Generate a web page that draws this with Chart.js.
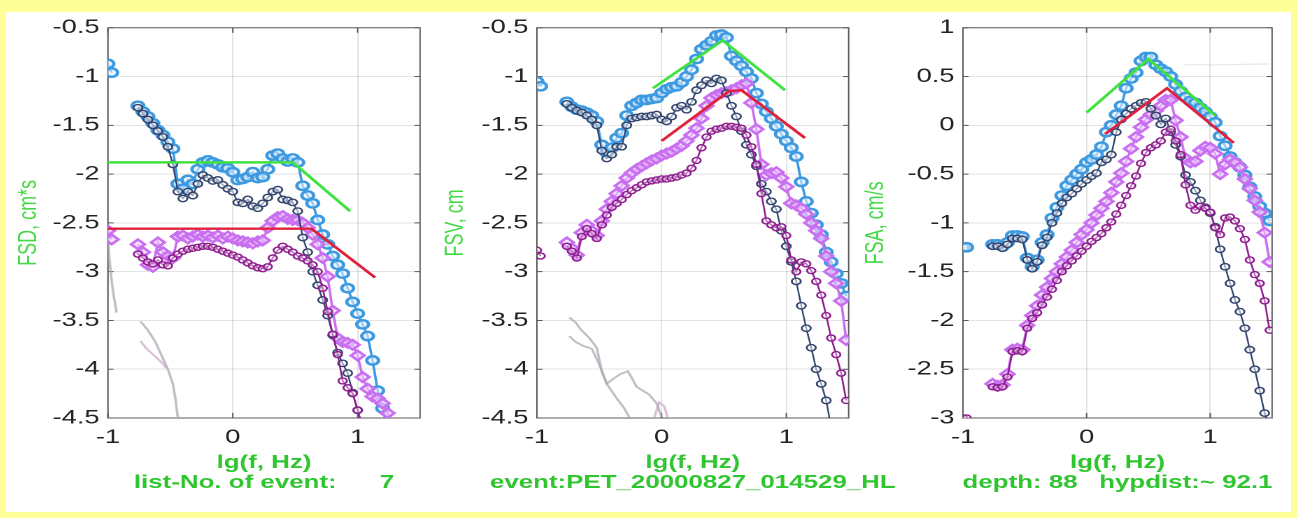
<!DOCTYPE html>
<html>
<head>
<meta charset="utf-8">
<script src="https://cdn.jsdelivr.net/npm/chart.js@4.4.1/dist/chart.umd.min.js"></script>
<style>
  html, body { margin: 0; padding: 0; background: #ffff99; }
  body { width: 1297px; height: 518px; position: relative; overflow: hidden; }
  #sheet { position: absolute; left: 6px; top: 12px; width: 1285px; height: 500px; background: #fff; }
  canvas.panel { position: absolute; top: 12px; }
</style>
</head>
<body>
<div id="sheet"></div>
<canvas id="fsd" class="panel" width="303" height="498"></canvas>
<canvas id="fsv" class="panel" width="341" height="498"></canvas>
<canvas id="fsa" class="panel" width="303" height="498"></canvas>
<script>
// lg(f) grid shared by all spectra; -0.87 is the hole between the first two samples and the rest
const lgF = [
  -1.00, -0.97, -0.87,
  -0.76, -0.72, -0.68, -0.64, -0.60, -0.56, -0.52, -0.48, -0.44, -0.40,
  -0.36, -0.32, -0.28, -0.24, -0.20, -0.16, -0.12, -0.08, -0.04, 0.00,
  0.04, 0.08, 0.12, 0.16, 0.20, 0.24, 0.28, 0.32, 0.36, 0.40,
  0.44, 0.48, 0.52, 0.56, 0.60, 0.64, 0.68, 0.72, 0.76, 0.80,
  0.84, 0.88, 0.92, 0.96, 1.00, 1.04, 1.08, 1.12, 1.16, 1.20,
  1.24, 1.28, 1.32, 1.36, 1.40, 1.44, 1.48
];

const xTicks = [-1, 0, 1];
const fsdTicks = [-4.5, -4, -3.5, -3, -2.5, -2, -1.5, -1, -0.5];
const fsvTicks = [-4.5, -4, -3.5, -3, -2.5, -2, -1.5, -1, -0.5];
const fsaTicks = [-3, -2.5, -2, -1.5, -1, -0.5, 0, 0.5, 1];

const xTitle = 'lg(f, Hz)';
const fsdNote = 'list-No. of event:      7';
const fsvNote = 'event:PET_20000827_014529_HL';
const fsaNote = 'depth: 88   hypdist:~ 92.1';

// displacement spectra
const fsdBlue = [
  -0.87, -0.96, null,
  -1.30, -1.36, -1.41, -1.48, -1.55, -1.60, -1.67, -1.74, -2.10, -2.15,
  -2.06, -2.10, -1.95, -1.88, -1.86, -1.88, -1.90, -1.93, -1.94, -1.98,
  -2.06, -2.05, -2.03, -1.98, -2.04, -2.03, -1.95, -1.81, -1.79, -1.84,
  -1.87, -1.84, -1.88, -2.12, -2.22, -2.30, -2.47, -2.62, -2.72, -2.84,
  -2.93, -3.02, -3.17, -3.31, -3.43, -3.54, -3.66, -3.91, -4.22, -4.40,
  -4.60, null, null, null, null, null, null
];
const fsdNavy = [
  null, null, null,
  -1.32, -1.38, -1.44, -1.50, -1.56, -1.62, -1.72, -1.90, -2.18, -2.25,
  -2.18, -2.22, -2.10, -2.01, -2.04, -2.07, -2.06, -2.11, -2.15, -2.18,
  -2.29, -2.30, -2.26, -2.33, -2.35, -2.30, -2.24, -2.18, -2.16, -2.26,
  -2.27, -2.29, -2.38, -2.65, -2.80, -3.00, -3.14, -3.29, -3.45, -3.65,
  -3.83, -3.94, -4.04, -4.24, -4.42, -4.60, null, null, null, null,
  null, null, null, null, null, null, null
];
const fsdViolet = [
  -2.58, -2.67, null,
  -2.72, -2.80, -2.93, -2.95, -2.70, -2.80, -2.84, -2.86, -2.64, -2.63,
  -2.66, -2.64, -2.62, -2.64, -2.63, -2.65, -2.63, -2.66, -2.64, -2.66,
  -2.68, -2.69, -2.70, -2.71, -2.69, -2.68, -2.55, -2.48, -2.44, -2.43,
  -2.46, -2.47, -2.47, -2.50, -2.55, -2.62, -2.72, -2.86, -3.05, -3.40,
  -3.68, -3.72, -3.73, -3.75, -3.86, -4.08, -4.20, -4.28, -4.30, -4.35,
  -4.45, -4.60, null, null, null, null, null
];
const fsdPurple = [
  null, null, null,
  -2.82, -2.86, -2.90, -2.92, -2.88, -2.93, -2.94, -2.86, -2.82, -2.79,
  -2.77, -2.76, -2.75, -2.74, -2.74, -2.75, -2.77, -2.79, -2.81, -2.83,
  -2.85, -2.88, -2.91, -2.94, -2.96, -2.97, -2.95, -2.86, -2.78, -2.74,
  -2.77, -2.80, -2.84, -2.86, -2.89, -2.93, -3.00, -3.17, -3.41, -3.64,
  -3.85, -4.12, -4.19, -4.25, -4.42, -4.60, null, null, null, null,
  null, null, null, null, null, null, null
];

// velocity spectra
const fsvBlue = [
  -1.05, -1.10, null,
  -1.26, -1.31, -1.34, -1.35, -1.37, -1.40, -1.46, -1.70, -1.78, -1.73,
  -1.63, -1.58, -1.40, -1.30, -1.27, -1.24, -1.24, -1.23, -1.22, -1.17,
  -1.13, -1.11, -1.10, -1.06, -1.00, -0.93, -0.82, -0.72, -0.68, -0.64,
  -0.58, -0.57, -0.60, -0.79, -0.84, -0.89, -0.95, -1.02, -1.17, -1.28,
  -1.36, -1.43, -1.51, -1.59, -1.66, -1.73, -1.82, -2.08, -2.28, -2.40,
  -2.52, -2.62, -2.80, -2.90, -3.02, -3.12, -3.25
];
const fsvNavy = [
  null, null, null,
  -1.28, -1.32, -1.35, -1.37, -1.40, -1.44, -1.50, -1.76, -1.84, -1.80,
  -1.72, -1.72, -1.50, -1.43, -1.42, -1.41, -1.41, -1.40, -1.39, -1.44,
  -1.46, -1.41, -1.32, -1.30, -1.34, -1.26, -1.14, -1.09, -1.04, -1.07,
  -1.02, -1.04, -1.17, -1.30, -1.41, -1.56, -1.70, -1.80, -1.92, -2.10,
  -2.18, -2.28, -2.36, -2.58, -2.74, -2.90, -3.10, -3.35, -3.58, -3.78,
  -4.00, -4.15, -4.32, -4.60, null, null, null
];
const fsvViolet = [
  null, null, null,
  -2.70, -2.76, -2.83, -2.60, -2.52, -2.58, -2.63, -2.48, -2.36, -2.28,
  -2.20, -2.12, -2.04, -1.99, -1.95, -1.92, -1.89, -1.86, -1.84, -1.81,
  -1.79, -1.77, -1.74, -1.71, -1.66, -1.60, -1.53, -1.43, -1.30, -1.22,
  -1.19, -1.17, -1.16, -1.14, -1.12, -1.09, -1.07, -1.27, -1.54, -1.90,
  -2.01, -1.99, -1.98, -2.04, -2.13, -2.30, -2.32, -2.35, -2.41, -2.50,
  -2.58, -2.66, -2.84, -3.00, -3.12, -3.30, -3.70
];
const fsvPurple = [
  -2.78, -2.84, null,
  -2.74, -2.79, -2.86, -2.64, -2.56, -2.61, -2.66, -2.52, -2.42, -2.34,
  -2.30, -2.26, -2.21, -2.17, -2.14, -2.11, -2.08, -2.07, -2.06, -2.05,
  -2.05, -2.04, -2.03, -2.01, -1.99, -1.94, -1.86, -1.73, -1.62, -1.56,
  -1.54, -1.53, -1.51, -1.51, -1.52, -1.53, -1.60, -1.72, -1.90, -2.20,
  -2.48, -2.52, -2.55, -2.54, -2.63, -2.88, -3.00, -2.90, -2.92, -2.99,
  -3.10, -3.24, -3.45, -3.68, -3.85, -4.04, -4.32
];

// acceleration spectra
const fsaBlue = [
  -1.25, -1.25, null,
  -1.22, -1.22, -1.24, -1.20, -1.13, -1.13, -1.14, -1.36, -1.45, -1.38,
  -1.20, -1.12, -0.95, -0.84, -0.72, -0.62, -0.56, -0.50, -0.45, -0.38,
  -0.35, -0.30, -0.22, -0.07, 0.00, 0.11, 0.20, 0.38, 0.48, 0.54,
  0.66, 0.70, 0.70, 0.62, 0.58, 0.55, 0.50, 0.42, 0.35, 0.29,
  0.25, 0.23, 0.18, 0.14, 0.09, 0.03, -0.11, -0.21, -0.32, -0.38,
  -0.43, -0.51, -0.63, -0.73, -0.83, -0.90, -0.98
];
const fsaNavy = [
  null, null, null,
  -1.24, -1.24, -1.26, -1.22, -1.16, -1.16, -1.17, -1.38, -1.47, -1.40,
  -1.23, -1.15, -1.00, -0.90, -0.80, -0.74, -0.70, -0.65, -0.60, -0.56,
  -0.52, -0.49, -0.38, -0.35, -0.30, -0.07, 0.06, 0.12, 0.17, 0.20,
  0.23, 0.24, 0.17, 0.10, 0.01, 0.07, -0.07, -0.20, -0.32, -0.51,
  -0.58, -0.67, -0.77, -0.84, -0.90, -1.04, -1.27, -1.45, -1.62, -1.79,
  -1.91, -2.08, -2.30, -2.50, -2.72, -2.95, -3.10
];
const fsaViolet = [
  null, null, null,
  -2.65, -2.67, -2.66, -2.55, -2.30, -2.29, -2.30, -2.05, -1.95, -1.85,
  -1.74, -1.66, -1.57, -1.50, -1.42, -1.35, -1.28, -1.20, -1.12, -1.07,
  -1.00, -0.92, -0.85, -0.78, -0.69, -0.58, -0.49, -0.37, -0.24, -0.12,
  -0.02, 0.06, 0.11, 0.15, 0.20, 0.26, 0.26, 0.05, -0.12, -0.34,
  -0.38, -0.37, -0.26, -0.22, -0.23, -0.29, -0.50, -0.40, -0.35, -0.38,
  -0.43, -0.55, -0.65, -0.77, -0.89, -1.10, -1.40
];
const fsaPurple = [
  -3.00, -3.00, null,
  -2.68, -2.69, -2.68, -2.58, -2.32, -2.31, -2.32, -2.08, -1.98, -1.92,
  -1.84, -1.76, -1.68, -1.59, -1.50, -1.44, -1.39, -1.34, -1.29, -1.24,
  -1.19, -1.15, -1.11, -1.05, -0.99, -0.91, -0.82, -0.72, -0.62, -0.52,
  -0.39, -0.28, -0.23, -0.20, -0.16, -0.07, -0.04, -0.16, -0.30, -0.61,
  -0.82, -0.87, -0.83, -0.85, -0.89, -1.05, -1.12, -0.95, -0.94, -0.98,
  -1.06, -1.17, -1.38, -1.53, -1.62, -1.80, -2.10
];

// source-model fits (corner lines)
const fsdGreenX = [-1.0, 0.48, 0.94];
const fsdGreenY = [-1.88, -1.88, -2.38];
const fsdRedX = [-1.0, 0.63, 1.14];
const fsdRedY = [-2.56, -2.56, -3.06];
const fsvGreenX = [-0.07, 0.49, 0.99];
const fsvGreenY = [-1.12, -0.63, -1.14];
const fsvRedX = [0.0, 0.54, 0.64, 1.15];
const fsvRedY = [-1.66, -1.15, -1.14, -1.63];
const fsaGreenX = [0.0, 0.50, 1.04];
const fsaGreenY = [0.13, 0.68, 0.10];
const fsaRedX = [0.15, 0.65, 1.19];
const fsaRedY = [-0.09, 0.38, -0.18];

// faint noise traces
const fsdEdgeX = [-1.0, -0.99, -0.97, -0.95, -0.93];
const fsdEdgeY = [-2.62, -2.85, -3.10, -3.28, -3.42];
const fsdNoiseX = [-0.74, -0.68, -0.62, -0.57, -0.52, -0.48, -0.46, -0.44];
const fsdNoiseY = [-3.51, -3.60, -3.72, -3.86, -4.00, -4.15, -4.30, -4.50];
const fsdNoise2X = [-0.74, -0.69, -0.63, -0.57, -0.53];
const fsdNoise2Y = [-3.71, -3.79, -3.86, -3.93, -3.99];
const fsvNoiseX = [-0.74, -0.69, -0.65, -0.58, -0.52, -0.48, -0.44, -0.39, -0.33, -0.27, -0.20, -0.15, -0.10, -0.04, 0.00];
const fsvNoiseY = [-3.47, -3.52, -3.59, -3.68, -3.78, -4.02, -4.15, -4.10, -4.05, -4.02, -4.18, -4.22, -4.26, -4.35, -4.49];
const fsvNoise2X = [-0.74, -0.69, -0.63, -0.56, -0.50, -0.44, -0.37, -0.30, -0.26];
const fsvNoise2Y = [-3.66, -3.72, -3.76, -3.79, -3.95, -4.15, -4.28, -4.40, -4.49];
const fsvNoise3X = [-0.06, -0.02, 0.02, 0.05];
const fsvNoise3Y = [-4.50, -4.34, -4.38, -4.50];
const fsaNoiseX = [0.79, 1.10, 1.48];
const fsaNoiseY = [0.62, 0.62, 0.63];

const FONT = '"Liberation Sans", Arial, sans-serif';
const STRETCH = 1.4;      // panels are drawn narrow and widened by CSS
const CANVAS_H = 498;
const CANVAS_TOP = 12;
const PLOT_TOP = 22;
const PLOT_BOTTOM = 418;
const TITLE_SIZE = 18.5;
const gridColor = 'rgba(0, 0, 0, 0.11)';
const labelGreen = '#2fc52f';

const styles = {
  blue: { color: '#3d9ae0', fill: 'rgba(230, 242, 255, 0.6)', shape: 'circle', r: 4.2, pw: 2.4, lw: 1.8 },
  navy: { color: '#33456e', fill: 'rgba(255, 255, 255, 0.5)', shape: 'circle', r: 3.2, pw: 1.4, lw: 1.2 },
  violet: { color: '#c96ff0', fill: 'rgba(240, 215, 255, 0.6)', shape: 'rectRot', r: 4.8, pw: 2.3, lw: 1.8 },
  purple: { color: '#8f1d8f', fill: 'rgba(255, 255, 255, 0.4)', shape: 'circle', r: 3.0, pw: 1.4, lw: 1.3 }
};

const toPoints = (xs, ys) => xs.map((x, i) => ({ x, y: ys[i] }));

function spectrum(values, key) {
  const s = styles[key];
  return {
    data: toPoints(lgF, values),
    borderColor: s.color,
    borderWidth: s.lw,
    pointStyle: s.shape,
    pointRadius: s.r,
    pointBorderWidth: s.pw,
    pointBorderColor: s.color,
    pointBackgroundColor: s.fill,
    spanGaps: false
  };
}

function plainLine(xs, ys, color, width) {
  return {
    data: toPoints(xs, ys),
    borderColor: color,
    borderWidth: width,
    pointRadius: 0
  };
}

// box round the plot with inward tick marks
const framePlugin = {
  id: 'frame',
  beforeDatasetsDraw(chart) {
    const { ctx, chartArea: a, scales } = chart;
    ctx.save();
    ctx.strokeStyle = '#5a5a5a';
    ctx.lineWidth = 1;
    ctx.strokeRect(a.left, a.top, a.right - a.left, a.bottom - a.top);
    ctx.beginPath();
    scales.x.ticks.forEach((t) => {
      const px = scales.x.getPixelForValue(t.value);
      ctx.moveTo(px, a.bottom);
      ctx.lineTo(px, a.bottom - 5);
      ctx.moveTo(px, a.top);
      ctx.lineTo(px, a.top + 5);
    });
    scales.y.ticks.forEach((t) => {
      const py = scales.y.getPixelForValue(t.value);
      ctx.moveTo(a.left, py);
      ctx.lineTo(a.left + 4, py);
      ctx.moveTo(a.right, py);
      ctx.lineTo(a.right - 4, py);
    });
    ctx.stroke();
    ctx.restore();
  },
  // second caption line under the x title, allowed to run wider than the plot
  afterDraw(chart, args, opts) {
    const { ctx, chartArea: a } = chart;
    ctx.save();
    ctx.font = `bold ${TITLE_SIZE}px ${FONT}`;
    ctx.fillStyle = labelGreen;
    ctx.textAlign = 'center';
    ctx.textBaseline = 'middle';
    ctx.fillText(opts.note, (a.left + a.right) / 2, 483 - CANVAS_TOP);
    ctx.restore();
  }
};

const panels = [
  {
    id: 'fsd', left: 6, plotLeft: 108, plotRight: 422, titleX: 29,
    yMin: -4.5, yMax: -0.5, yTicks: fsdTicks, yTitle: 'FSD, cm*s', note: fsdNote,
    series: [fsdPurple, fsdNavy, fsdViolet, fsdBlue],
    fits: [[fsdGreenX, fsdGreenY], [fsdRedX, fsdRedY]],
    traces: [[fsdEdgeX, fsdEdgeY], [fsdNoiseX, fsdNoiseY], [fsdNoise2X, fsdNoise2Y]]
  },
  {
    id: 'fsv', left: 432, plotLeft: 537, plotRight: 849, titleX: 456,
    yMin: -4.5, yMax: -0.5, yTicks: fsvTicks, yTitle: 'FSV, cm', note: fsvNote,
    series: [fsvPurple, fsvNavy, fsvViolet, fsvBlue],
    fits: [[fsvGreenX, fsvGreenY], [fsvRedX, fsvRedY]],
    traces: [[fsvNoiseX, fsvNoiseY], [fsvNoise2X, fsvNoise2Y], [fsvNoise3X, fsvNoise3Y]]
  },
  {
    id: 'fsa', left: 858, plotLeft: 963, plotRight: 1275, titleX: 876,
    yMin: -3, yMax: 1, yTicks: fsaTicks, yTitle: 'FSA, cm/s', note: fsaNote,
    series: [fsaPurple, fsaNavy, fsaViolet, fsaBlue],
    fits: [[fsaGreenX, fsaGreenY], [fsaRedX, fsaRedY]],
    traces: [[fsaNoiseX, fsaNoiseY]]
  }
];

const traceColors = ['rgba(170, 170, 182, 0.75)', 'rgba(175, 175, 185, 0.8)', 'rgba(205, 165, 195, 0.7)'];

panels.forEach((p) => {
  const canvas = document.getElementById(p.id);
  const canvasW = canvas.width;
  canvas.style.left = p.left + 'px';
  canvas.style.width = (canvasW * STRETCH) + 'px';
  canvas.style.height = CANVAS_H + 'px';

  const yAxisWidth = (p.plotLeft - p.left) / STRETCH;
  const rightPad = canvasW - (p.plotRight - p.left) / STRETCH;
  const titleCentre = (p.titleX - p.left) / STRETCH;
  const titleLine = TITLE_SIZE * 1.2;

  const datasets = [
    plainLine(p.fits[0][0], p.fits[0][1], '#3fe23f', 2.4),
    plainLine(p.fits[1][0], p.fits[1][1], '#e0203c', 2.4),
    spectrum(p.series[0], 'purple'),
    spectrum(p.series[1], 'navy'),
    spectrum(p.series[2], 'violet'),
    spectrum(p.series[3], 'blue'),
    ...p.traces.map((t, i) => plainLine(t[0], t[1], traceColors[i % traceColors.length], 1.8))
  ];
  if (p.id === 'fsa') {
    datasets[datasets.length - 1].borderColor = 'rgba(200, 200, 205, 0.45)';
    datasets[datasets.length - 1].borderWidth = 1.2;
  }

  new Chart(canvas, {
    type: 'line',
    data: { datasets },
    options: {
      responsive: false,
      animation: false,
      devicePixelRatio: 2,
      layout: { padding: { top: PLOT_TOP - CANVAS_TOP, right: rightPad, bottom: 0, left: 0 } },
      elements: { line: { tension: 0 } },
      plugins: {
        legend: { display: false },
        tooltip: { enabled: false },
        frame: { note: p.note }
      },
      scales: {
        x: {
          type: 'linear',
          min: -1,
          max: 1.5,
          afterBuildTicks: (axis) => { axis.ticks = xTicks.map((v) => ({ value: v })); },
          afterFit: (axis) => { axis.height = CANVAS_H - (PLOT_BOTTOM - CANVAS_TOP); },
          grid: { color: gridColor, drawTicks: false },
          border: { display: false },
          ticks: {
            color: '#222',
            padding: 8,
            maxRotation: 0,
            font: { family: FONT, size: 19.5, lineHeight: 1.2 },
            callback: (v) => String(v)
          },
          title: {
            display: true,
            text: xTitle,
            color: labelGreen,
            font: { family: FONT, size: TITLE_SIZE, weight: 'bold', lineHeight: 1.2 },
            padding: { top: 0, bottom: (CANVAS_H - (463 - CANVAS_TOP)) - titleLine / 2 }
          }
        },
        y: {
          type: 'linear',
          min: p.yMin,
          max: p.yMax,
          afterBuildTicks: (axis) => { axis.ticks = p.yTicks.map((v) => ({ value: v })); },
          afterFit: (axis) => { axis.width = yAxisWidth; },
          grid: { color: gridColor, drawTicks: false },
          border: { display: false },
          ticks: {
            color: '#222',
            padding: 6,
            font: { family: FONT, size: 19.5, lineHeight: 1 },
            callback: (v) => String(v)
          },
          title: {
            display: true,
            text: p.yTitle,
            color: '#44d844',
            font: { family: FONT, size: 18, lineHeight: 1.2 },
            padding: { top: titleCentre - 10.8, bottom: 0 }
          }
        }
      }
    },
    plugins: [framePlugin]
  });
});
</script>
</body>
</html>
